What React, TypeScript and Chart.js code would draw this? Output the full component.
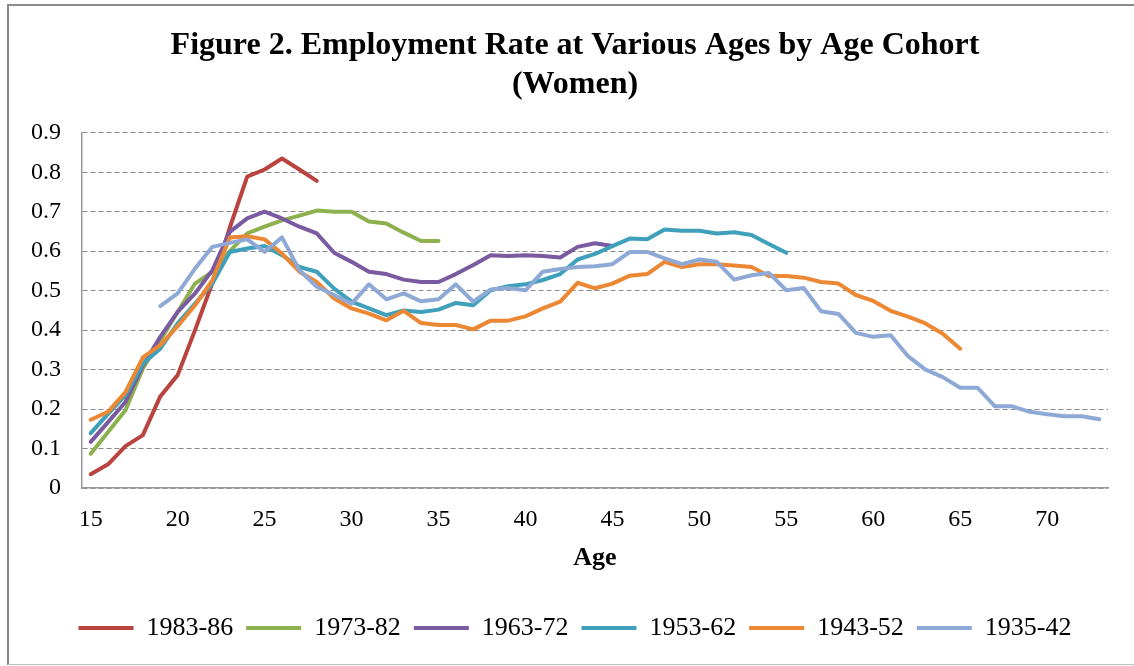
import React, { useEffect, useRef } from 'react';
import { Chart, registerables } from 'chart.js';

Chart.register(...registerables);

const ages = [
  15, 16, 17, 18, 19, 20, 21, 22, 23, 24, 25, 26, 27, 28, 29, 30, 31, 32, 33, 34,
  35, 36, 37, 38, 39, 40, 41, 42, 43, 44, 45, 46, 47, 48, 49, 50, 51, 52, 53, 54,
  55, 56, 57, 58, 59, 60, 61, 62, 63, 64, 65, 66, 67, 68, 69, 70, 71, 72, 73,
];

const xTickLabels = ['15', '20', '25', '30', '35', '40', '45', '50', '55', '60', '65', '70'];
const yTicks = [0, 0.1, 0.2, 0.3, 0.4, 0.5, 0.6, 0.7, 0.8, 0.9];

const cohortNames = ['1983-86', '1973-82', '1963-72', '1953-62', '1943-52', '1935-42'];
const cohortColors = ['#B9433F', '#8DB14F', '#7A5AA0', '#3FA0BB', '#EC8833', '#8FA9D6'];

// ages 15-28
const c1983_86 = [
  0.035, 0.06, 0.106, 0.134, 0.232, 0.286, 0.4, 0.52, 0.66, 0.789, 0.807, 0.835, 0.807, 0.778,
];
// ages 15-35
const c1973_82 = [
  0.087, 0.142, 0.197, 0.303, 0.374, 0.446, 0.518, 0.548, 0.6, 0.645, 0.662, 0.678, 0.69, 0.703,
  0.7, 0.7, 0.675, 0.67, 0.647, 0.626, 0.626,
];
// ages 15-45
const c1963_72 = [
  0.117, 0.167, 0.218, 0.31, 0.383, 0.446, 0.493, 0.552, 0.649, 0.683, 0.7, 0.683, 0.662, 0.645,
  0.596, 0.573, 0.548, 0.542, 0.528, 0.522, 0.522, 0.542, 0.565, 0.59, 0.588, 0.59, 0.588, 0.584,
  0.611, 0.62, 0.613,
];
// ages 15-55
const c1953_62 = [
  0.139, 0.188, 0.235, 0.315, 0.353, 0.417, 0.467, 0.518, 0.598, 0.607, 0.613, 0.59, 0.56, 0.548,
  0.505, 0.472, 0.455, 0.438, 0.45, 0.446, 0.452, 0.469, 0.463, 0.501, 0.511, 0.516, 0.527, 0.542,
  0.579, 0.593, 0.613, 0.632, 0.63, 0.655, 0.652, 0.652, 0.645, 0.648, 0.641, 0.618, 0.596,
];
// ages 15-65
const c1943_52 = [
  0.173, 0.193, 0.243, 0.331, 0.362, 0.41, 0.463, 0.527, 0.635, 0.638, 0.63, 0.594, 0.548, 0.522,
  0.48, 0.455, 0.442, 0.425, 0.449, 0.418, 0.413, 0.413, 0.402, 0.424, 0.424, 0.435, 0.455, 0.472,
  0.52, 0.506, 0.518, 0.538, 0.542, 0.573, 0.56, 0.567, 0.567, 0.564, 0.56, 0.537, 0.537, 0.533,
  0.522, 0.518, 0.489, 0.474, 0.449, 0.434, 0.417, 0.391, 0.353,
];
// ages 19-73
const c1935_42 = [
  0.461, 0.493, 0.556, 0.611, 0.621, 0.63, 0.598, 0.635, 0.552, 0.51, 0.489, 0.467, 0.516, 0.478,
  0.493, 0.473, 0.478, 0.516, 0.472, 0.503, 0.507, 0.501, 0.548, 0.555, 0.56, 0.562, 0.567, 0.598,
  0.598, 0.582, 0.567, 0.579, 0.573, 0.528, 0.539, 0.545, 0.501, 0.507, 0.448, 0.441, 0.393, 0.383,
  0.387, 0.334, 0.3, 0.281, 0.254, 0.254, 0.207, 0.207, 0.193, 0.187, 0.182, 0.182, 0.174,
];
const cohortStartAges = [15, 15, 15, 15, 15, 19];
const cohortValues = [c1983_86, c1973_82, c1963_72, c1953_62, c1943_52, c1935_42];

function alignToAges(start: number, values: number[]): (number | null)[] {
  return ages.map((a) => {
    const i = a - start;
    return i >= 0 && i < values.length ? values[i] : null;
  });
}

const FONT = '"Liberation Serif", "Times New Roman", serif';

export default function App() {
  const canvasRef = useRef<HTMLCanvasElement | null>(null);

  useEffect(() => {
    if (!canvasRef.current) return;
    const n = cohortNames.length;
    const chart = new Chart(canvasRef.current, {
      type: 'line',
      data: {
        labels: ages.map(String),
        datasets: cohortNames.map((name, i) => ({
          label: name,
          data: alignToAges(cohortStartAges[i], cohortValues[i]),
          borderColor: cohortColors[i],
          backgroundColor: cohortColors[i],
          borderWidth: 4,
          borderCapStyle: 'round' as const,
          borderJoinStyle: 'round' as const,
          pointRadius: 0,
          pointHoverRadius: 0,
          tension: 0,
          spanGaps: false,
          fill: false,
          order: n - i,
        })),
      },
      options: {
        animation: false,
        responsive: false,
        devicePixelRatio: 1,
        layout: { padding: { top: 0, left: 42, right: 26, bottom: 15 } },
        plugins: {
          tooltip: { enabled: false },
          title: {
            display: true,
            text: ['Figure 2. Employment Rate at Various Ages by Age Cohort', '(Women)'],
            color: '#000',
            font: { family: FONT, size: 32, weight: 'bold', lineHeight: 1.2 },
            padding: { top: 27, bottom: 29 },
          },
          legend: {
            display: true,
            position: 'bottom',
            labels: {
              color: '#000',
              font: { family: FONT, size: 26 },
              usePointStyle: true,
              pointStyle: 'line',
              pointStyleWidth: 55,
              padding: 13,
              sort: (a: any, b: any) => a.datasetIndex - b.datasetIndex,
            },
          },
        },
        scales: {
          x: {
            type: 'category',
            offset: true,
            grid: { display: false, drawTicks: false },
            border: { display: true, color: '#9a9a9a', width: 1.5 },
            ticks: {
              autoSkip: false,
              maxRotation: 0,
              minRotation: 0,
              padding: 17,
              color: '#000',
              font: { family: FONT, size: 24 },
              callback: (_v: any, index: number) => {
                const lbl = String(ages[index]);
                return xTickLabels.includes(lbl) ? lbl : '';
              },
            },
            title: {
              display: true,
              text: 'Age',
              color: '#000',
              font: { family: FONT, size: 26, weight: 'bold', lineHeight: 1.2 },
              padding: { top: 0, bottom: 28 },
            },
            afterFit: (scale: any) => {
              scale.height = 114;
            },
          },
          y: {
            type: 'linear',
            min: 0,
            max: 0.9,
            grid: { display: true, color: '#8a8a8a', lineWidth: 1, drawTicks: false },
            border: { display: true, color: '#9a9a9a', width: 1.5, dash: [5, 3] },
            ticks: {
              padding: 21,
              color: '#000',
              font: { family: FONT, size: 24 },
              callback: (v: any) => (Number(v) === 0 ? '0' : Number(v).toFixed(1)),
            },
            afterBuildTicks: (scale: any) => {
              scale.ticks = yTicks.map((v) => ({ value: v }));
            },
            afterFit: (scale: any) => {
              scale.width = 40;
              // let tick labels extend left of the (narrow) axis box without clipping
              scale._computeLabelArea = () => undefined;
            },
          },
        },
      },
    } as any);
    return () => chart.destroy();
  }, []);

  return (
    <div
      style={{
        position: 'absolute',
        left: 0,
        top: 0,
        width: 1134,
        height: 666,
        background: '#fff',
        overflow: 'hidden',
      }}
    >
      <canvas ref={canvasRef} width={1134} height={666} style={{ display: 'block' }} />
      <div
        style={{
          position: 'absolute',
          left: 7,
          top: 4,
          width: 1127,
          height: 661,
          boxSizing: 'border-box',
          borderTop: '2px solid #8a8a8a',
          borderLeft: '2px solid #8a8a8a',
          borderBottom: '1px solid #c0c0c0',
          pointerEvents: 'none',
        }}
      />
    </div>
  );
}
